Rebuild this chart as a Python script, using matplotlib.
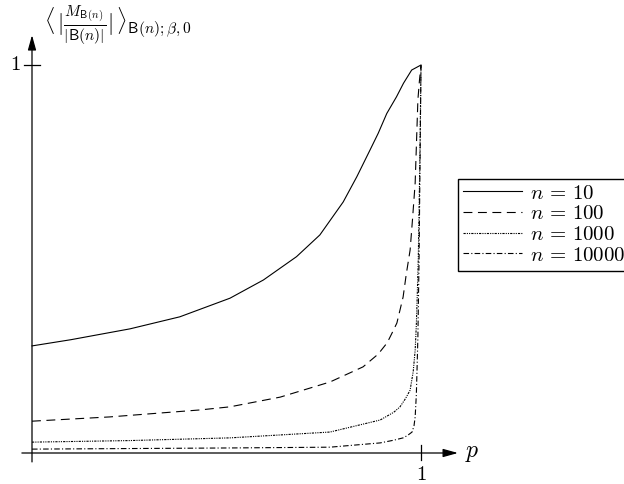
import matplotlib
matplotlib.use('Agg')
import matplotlib.pyplot as plt

plt.rcParams['mathtext.fontset'] = 'cm'
plt.rcParams['font.family'] = 'Liberation Serif'

# magnetisation vs p for several system sizes
p_10 = [0, 0.10, 0.252, 0.38, 0.509, 0.595, 0.680, 0.740, 0.80, 0.835, 0.869,
        0.890, 0.912, 0.937, 0.955, 0.976, 1.0]
m_10 = [0.276, 0.292, 0.320, 0.351, 0.399, 0.446, 0.506, 0.562, 0.647, 0.712, 0.781,
        0.824, 0.875, 0.918, 0.953, 0.987, 1.0]

p_100 = [0, 0.2, 0.432, 0.509, 0.638, 0.766, 0.851, 0.89, 0.913, 0.925, 0.938, 0.954,
         0.962, 0.972, 0.978, 0.985, 0.992, 0.996, 1.0]
m_100 = [0.082, 0.093, 0.111, 0.119, 0.144, 0.183, 0.222, 0.255, 0.284, 0.308, 0.335, 0.402,
         0.46, 0.523, 0.6, 0.696, 0.910, 0.96, 1.0]

p_1000 = [0, 0.25, 0.509, 0.766, 0.895, 0.93, 0.946, 0.96, 0.972, 0.98, 0.985, 0.988,
          0.990, 0.993, 0.997, 1.0]
m_1000 = [0.028, 0.032, 0.039, 0.054, 0.085, 0.105, 0.119, 0.14, 0.162, 0.21, 0.265, 0.33,
          0.394, 0.5, 0.75, 1.0]

p_10000 = [0, 0.509, 0.766, 0.895, 0.93, 0.954, 0.965, 0.977, 0.982, 0.985, 0.988, 0.990,
           0.992, 0.995, 0.997, 1.0]
m_10000 = [0.010, 0.013, 0.015, 0.026, 0.033, 0.039, 0.045, 0.054, 0.07, 0.093, 0.15, 0.222,
           0.3, 0.5, 0.7, 1.0]

labels = [r'$n\,=\,10$', r'$n\,=\,100$', r'$n\,=\,1000$', r'$n\,=\,10000$']

W, H = 624, 484
fig = plt.figure(figsize=(W / 100, H / 100), dpi=100)
ax = fig.add_axes([32 / W, (H - 453) / H, 389 / W, 388 / H])
ax.set_xlim(0, 1)
ax.set_ylim(0, 1)
ax.axis('off')

lw = 0.8
ax.plot(p_10, m_10, color='black', lw=lw, ls='-', label=labels[0], clip_on=False)
ax.plot(p_100, m_100, color='black', lw=lw, ls=(0, (8, 5)), label=labels[1], clip_on=False)
ax.plot(p_1000, m_1000, color='black', lw=lw, ls=(0, (2, 1, 1, 1, 1, 1)), label=labels[2], clip_on=False)
ax.plot(p_10000, m_10000, color='black', lw=lw, ls=(0, (5, 2, 1, 2)), label=labels[3], clip_on=False)

# axes with arrow heads
arrow = dict(arrowstyle='-|>,head_length=0.9,head_width=0.25', color='black', lw=0.9,
             shrinkA=0, shrinkB=0)
ax.annotate('', xy=(1.095, 0), xytext=(-0.026, 0), arrowprops=arrow, annotation_clip=False)
ax.annotate('', xy=(0, 1.077), xytext=(0, -0.023), arrowprops=arrow, annotation_clip=False)

# tick marks
ax.plot([1, 1], [-0.018, 0.02], color='black', lw=0.9, clip_on=False)
ax.plot([-0.021, 0.021], [1, 1], color='black', lw=0.9, clip_on=False)
ax.text(1, -0.057, r'$1$', ha='center', va='center', fontsize=15)
ax.text(-0.044, 1, r'$1$', ha='center', va='center', fontsize=15)

ax.text(1.112, 0.0, r'$p$', ha='left', va='center', fontsize=17)
ax.text(0.03, 1.103,
        r'$\langle\,|\frac{M_{\mathsf{B}(n)}}{|\mathsf{B}(n)|}|\,\rangle_{\mathsf{B}(n);\beta,0}$',
        ha='left', va='center', fontsize=16)

ax.legend(loc='upper left', bbox_to_anchor=(458 / W, 1 - 179 / H),
          bbox_transform=fig.transFigure, fancybox=False, edgecolor='black',
          framealpha=1, fontsize=15, handlelength=2.8, handletextpad=0.4,
          labelspacing=0.05, borderpad=0.25, borderaxespad=0)

fig.savefig('out.png', dpi=100)
